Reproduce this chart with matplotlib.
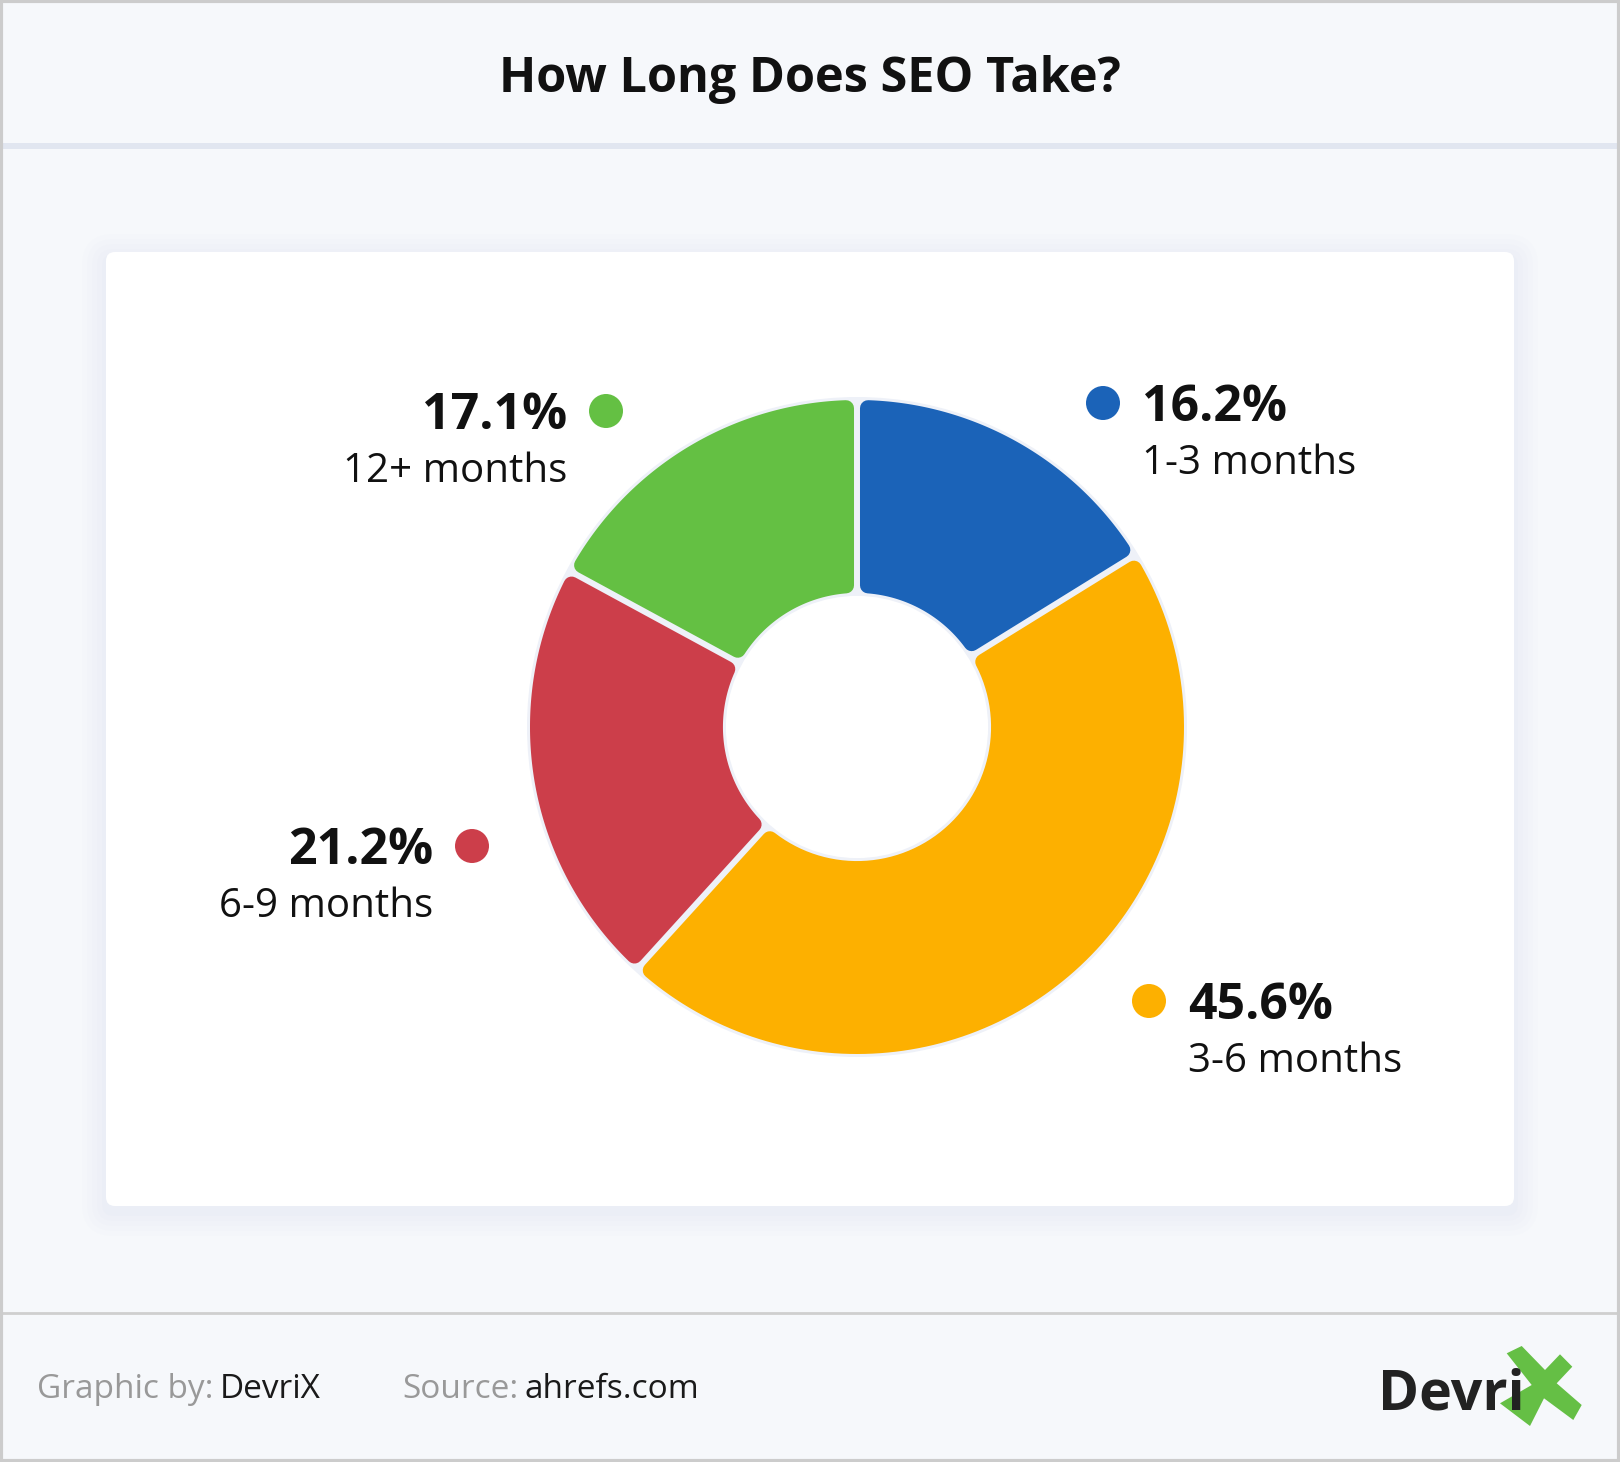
import matplotlib
matplotlib.use('Agg')
import matplotlib.pyplot as plt
from matplotlib.patches import FancyBboxPatch, Circle, Rectangle, Polygon, Wedge
import numpy as np

plt.rcParams['font.family'] = ['Open Sans', 'DejaVu Sans']

# data
categories = ['1-3 months', '3-6 months', '6-9 months', '12+ months']
shares = [16.2, 45.6, 21.2, 17.1]
colors = ['#1b63b8', '#fdb000', '#cc3e4a', '#64c043']

# label dots (pixel coords) and which side the text sits on
dot_pos = [(1103, 403), (1149, 1001), (472, 846), (606, 411)]
text_side = ['right', 'right', 'left', 'left']

W, H = 1620, 1462
BG = '#f6f8fb'
fig = plt.figure(figsize=(W / 100, H / 100), dpi=100)
fig.patch.set_facecolor(BG)

# full-figure axes in pixel coords for background / text
bg = fig.add_axes([0, 0, 1, 1])
bg.set_xlim(0, W)
bg.set_ylim(H, 0)
bg.axis('off')

# title band separator
bg.add_patch(Rectangle((0, 143), W, 6, color='#e1e6f0', lw=0))
bg.text(W / 2, 92, 'How Long Does SEO Take?', ha='center', va='baseline',
        fontsize=35, fontweight='bold', color='#111111')

# card shadow + card
for i, a in enumerate([0.05, 0.05, 0.05, 0.06, 0.07]):
    pad = 24 - i * 5
    bg.add_patch(FancyBboxPatch((106, 258), 1408, 954, boxstyle='round,pad=%d,rounding_size=%d' % (pad, pad + 8),
                                fc='#cfdcf2', ec='none', alpha=a))
bg.add_patch(FancyBboxPatch((106, 252), 1408, 954, boxstyle='round,pad=0,rounding_size=9',
                            fc='white', ec='none'))

# footer
bg.plot([0, W], [1313, 1313], color='#cfcfcf', lw=2)
bg.text(37, 1398, 'Graphic by:', fontsize=24, color='#999999', va='baseline')
bg.text(220, 1398, 'DevriX', fontsize=24, color='#1a1a1a', va='baseline')
bg.text(402, 1398, 'Source:', fontsize=24, color='#999999', va='baseline')
bg.text(525, 1398, 'ahrefs.com', fontsize=24, color='#1a1a1a', va='baseline')

# logo
bg.text(1378, 1410, 'Devri', fontsize=40, fontweight='bold', color='#222222', va='baseline')
logo_x = [(1506.7, 1353.3), (1521.7, 1346), (1545, 1370), (1560, 1354.3), (1572.3, 1366.7),
          (1556.7, 1383.3), (1581.7, 1405), (1573.3, 1420), (1544, 1398.3), (1530, 1426),
          (1500, 1403.3), (1531.7, 1385)]
bg.add_patch(Polygon(logo_x, closed=True, fc='#65bf45', ec='none'))

# outer frame
for x0, y0, x1, y1 in [(1, 0, 1, H), (W - 1, 0, W - 1, H), (0, 1, W, 1), (0, H - 1, W, H - 1)]:
    bg.plot([x0, x1], [y0, y1], color='#cccccc', lw=3)

# donut
cx, cy, R = 857, 727, 327
ax = fig.add_axes([(cx - R) / W, 1 - (cy + R) / H, 2 * R / W, 2 * R / H])
wedges, _ = ax.pie(shares, colors=colors, startangle=90, counterclock=False, radius=1,
                   wedgeprops=dict(width=0.59), frame=True)
ax.set_xlim(-1, 1)
ax.set_ylim(-1, 1)
ax.axis('off')

# light halo ring behind the slices
px = 1.0 / R
ax.add_patch(Wedge((0, 0), 1 + 3 * px, 0, 360, width=0.59 + 6 * px, fc='#eef1f8', ec='none',
                   zorder=0, clip_on=False))

# redraw each slice with rounded corners and small gaps
gap, rc = 3 * px, 8 * px
for w in wedges:
    r_out, r_in = w.r, w.r - w.width
    t1, t2 = np.radians(w.theta1), np.radians(w.theta2)
    ro, ri = r_out - rc, r_in + rc
    d = gap + rc
    a_o = np.linspace(t1 + d / ro, t2 - d / ro, 120)
    a_i = np.linspace(t2 - d / ri, t1 + d / ri, 60)
    xs = np.concatenate([ro * np.cos(a_o), ri * np.cos(a_i)])
    ys = np.concatenate([ro * np.sin(a_o), ri * np.sin(a_i)])
    c = w.get_facecolor()
    w.set_visible(False)
    ax.add_patch(Polygon(np.column_stack([xs, ys]), closed=True, fc=c, ec=c,
                         lw=2 * rc * R * 0.72, joinstyle='round', clip_on=False, zorder=2))

# labels
for (dx, dy), side, c, s, cat in zip(dot_pos, text_side, colors, shares, categories):
    bg.add_patch(Circle((dx, dy), 17, color=c, lw=0))
    if side == 'right':
        tx, ha = dx + 39, 'left'
    else:
        tx, ha = dx - 39, 'right'
    bg.text(tx, dy + 18, '%.1f%%' % s, ha=ha, va='baseline', fontsize=36,
            fontweight='bold', color='#111111')
    bg.text(tx, dy + 71, cat, ha=ha, va='baseline', fontsize=29, color='#111111')

fig.savefig('out.png', dpi=100, facecolor=fig.get_facecolor())
